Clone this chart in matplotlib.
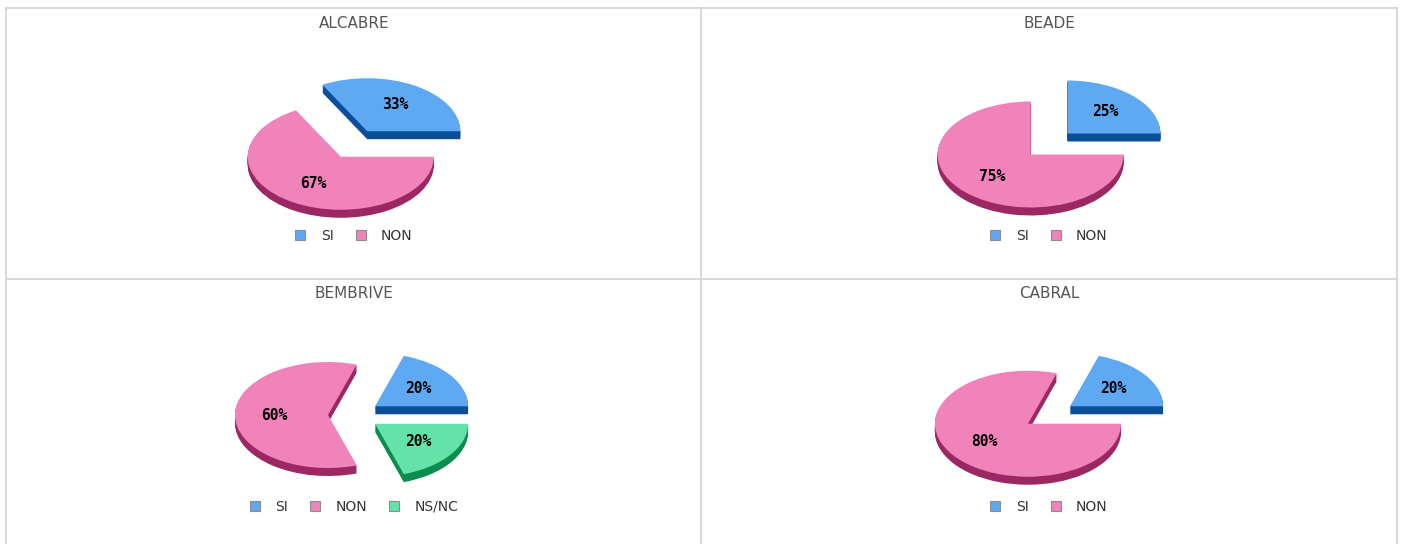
import matplotlib
matplotlib.use('Agg')
import matplotlib.pyplot as plt
from matplotlib.patches import Patch

# ---- data -------------------------------------------------------------
titles = ['ALCABRE', 'BEADE', 'BEMBRIVE', 'CABRAL']
categories = [['SI', 'NON'], ['SI', 'NON'], ['SI', 'NON', 'NS/NC'], ['SI', 'NON']]
alcabre = [33, 67]
beade = [25, 75]
bembrive = [20, 60, 20]
cabral = [20, 80]
values = [alcabre, beade, bembrive, cabral]

top_colors = {'SI': '#5fa9f2', 'NON': '#f183bb', 'NS/NC': '#63e2a9'}
side_colors = {'SI': '#0b4f9b', 'NON': '#9b2862', 'NS/NC': '#0a8d4d'}

# ---- layout (pixels) --------------------------------------------------
W, H = 1406, 544
RX, RY, DEPTH = 93, 53, 8       # ellipse radii and 3D depth
EXPLODE = 0.28
# panel: (centre x, top y)
panels = [(354, 8), (1049, 8), (354, 279), (1049, 279)]

fig = plt.figure(figsize=(W / 100, H / 100), dpi=100)
fig.patch.set_facecolor('white')

# panel frame lines
bg = fig.add_axes([0, 0, 1, 1])
bg.set_xlim(0, W)
bg.set_ylim(H, 0)
bg.axis('off')
line_kw = dict(color='#d8d8d8', lw=1.4)
bg.plot([6, 1397], [8, 8], **line_kw)
bg.plot([6, 1397], [279, 279], **line_kw)
for x in (6, 701, 1397):
    bg.plot([x, x], [8, H], **line_kw)

for title, cats, vals, (cx, top) in zip(titles, categories, values, panels):
    cy = top + 136
    ax = fig.add_axes([(cx - 1.5 * RX) / W, 1 - (cy + 1.5 * RY) / H,
                       3 * RX / W, 3 * RY / H])
    explode = [EXPLODE] * len(vals)

    # depth: stack darker copies of the pie below the top face
    d = DEPTH / RY
    n_layers = DEPTH + 1
    for k in range(n_layers):
        off = d * (1 - k / n_layers)
        ax.pie(vals, explode=explode, startangle=0, counterclock=True,
               colors=[side_colors[c] for c in cats], center=(0, -off))

    wedges, _, autotexts = ax.pie(
        vals, explode=explode, startangle=0, counterclock=True,
        colors=[top_colors[c] for c in cats],
        autopct=lambda p: f'{p:.0f}%', pctdistance=0.58,
        textprops=dict(family='DejaVu Sans Mono', weight='bold',
                       size=10.5, color='black'))

    ax.set_aspect('auto')
    ax.set_xlim(-1.5, 1.5)
    ax.set_ylim(-1.5, 1.5)
    ax.axis('off')

    fig.text(cx / W, 1 - (top + 15) / H, title, ha='center', va='center',
             fontsize=11, color='#555555')

    handles = [Patch(facecolor=top_colors[c], edgecolor='#8c8c8c', lw=0.8)
               for c in cats]
    fig.legend(handles, cats, loc='center',
               bbox_to_anchor=(cx / W, 1 - (top + 228) / H),
               ncol=len(cats), frameon=False, fontsize=10,
               handlelength=0.72, handleheight=0.72, handletextpad=1.1,
               columnspacing=1.6, labelcolor='#333333')

fig.savefig('out.png', dpi=100)
